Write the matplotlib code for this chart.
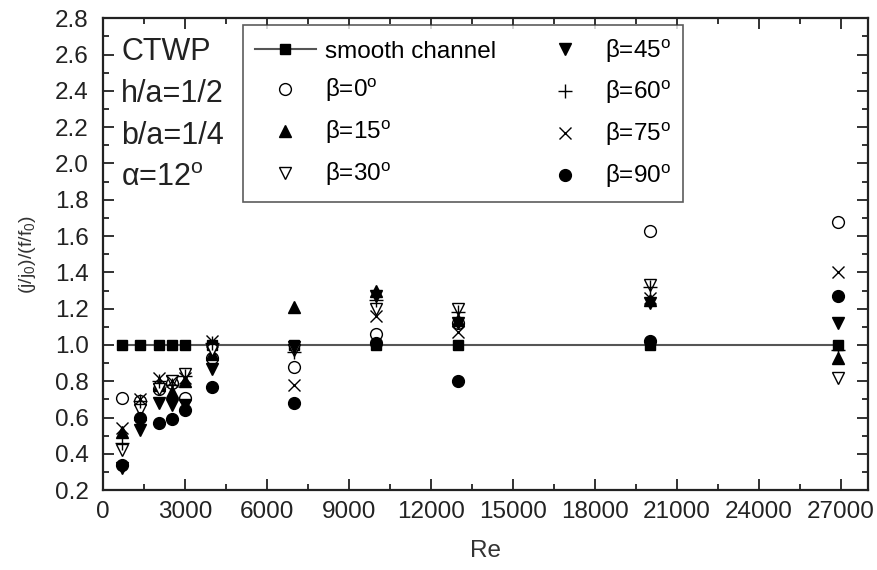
import matplotlib
matplotlib.use("Agg")
import matplotlib.pyplot as plt
from matplotlib.ticker import MultipleLocator

plt.rcParams['font.family'] = ['Liberation Sans', 'DejaVu Sans']
plt.rcParams['mathtext.fontset'] = 'custom'
plt.rcParams['mathtext.rm'] = 'Liberation Sans'
plt.rcParams['mathtext.it'] = 'Liberation Sans:italic'

# Reynolds numbers tested
re_vals = [700, 1350, 2050, 2550, 3000, 4000, 7000, 10000, 13000, 20000, 26900]

# thermal performance (j/j0)/(f/f0) for each rib angle
smooth = [1.0, 1.0, 1.0, 1.0, 1.0, 1.0, 1.0, 1.0, 1.0, 1.0, 1.0]
beta0 = [0.71, 0.69, 0.76, 0.79, 0.71, 0.93, 0.88, 1.06, 1.12, 1.63, 1.68]
beta15 = [0.52, 0.62, 0.78, 0.74, 0.80, 0.95, 1.21, 1.30, 1.14, 1.25, 0.93]
beta30 = [0.42, 0.64, 0.76, 0.80, 0.84, 0.97, 0.97, 1.20, 1.20, 1.33, 0.82]
beta45 = [0.32, 0.53, 0.68, 0.67, 0.67, 0.87, 0.99, 1.27, 1.12, 1.23, 1.12]
beta60 = [0.46, 0.69, 0.80, 0.78, 0.83, 1.01, 0.96, 1.25, 1.18, 1.32, 0.97]
beta75 = [0.54, 0.70, 0.82, 0.80, 0.82, 1.02, 0.78, 1.16, 1.07, 1.26, 1.40]
beta90 = [0.34, 0.60, 0.57, 0.59, 0.64, 0.77, 0.68, 1.01, 0.80, 1.02, 1.27]

deg = r'$^{\mathrm{o}}$'

fig = plt.figure(figsize=(8.78, 5.70), dpi=100)
ax = fig.add_axes([0.117, 0.14, 0.872, 0.828])

ms = 8.5
ax.plot(re_vals, smooth, color='#555555', lw=1.5, marker='s', ms=7.5,
        mfc='black', mec='black', label='smooth channel')
ax.plot(re_vals, beta0, ls='none', marker='o', ms=ms, mfc='white',
        mec='black', mew=1.0, label='β=0' + deg)
ax.plot(re_vals, beta15, ls='none', marker='^', ms=ms, color='black',
        label='β=15' + deg)
ax.plot(re_vals, beta30, ls='none', marker='v', ms=ms, mfc='white',
        mec='black', mew=1.0, label='β=30' + deg)
ax.plot(re_vals, beta45, ls='none', marker='v', ms=ms, color='black',
        label='β=45' + deg)
ax.plot(re_vals, beta60, ls='none', marker='+', ms=ms + 1.5, color='black',
        mew=1.0, label='β=60' + deg)
ax.plot(re_vals, beta75, ls='none', marker='x', ms=ms, color='black',
        mew=1.0, label='β=75' + deg)
ax.plot(re_vals, beta90, ls='none', marker='o', ms=ms, color='black',
        label='β=90' + deg)

ax.set_xlim(0, 28000)
ax.set_ylim(0.2, 2.8)
ax.xaxis.set_major_locator(MultipleLocator(3000))
ax.xaxis.set_minor_locator(MultipleLocator(1500))
ax.yaxis.set_major_locator(MultipleLocator(0.2))
ax.yaxis.set_minor_locator(MultipleLocator(0.1))
ax.yaxis.set_major_formatter(plt.FormatStrFormatter('%.1f'))
ax.tick_params(which='both', direction='in', top=True, right=True,
               labelsize=17.5, width=1.3, colors='#222222')
ax.tick_params(which='major', length=8)
ax.tick_params(axis='x', which='major', pad=8)
ax.tick_params(axis='y', which='major', pad=10)
ax.tick_params(which='minor', length=4)
for sp in ax.spines.values():
    sp.set_linewidth(1.6)
    sp.set_color('#222222')

ax.set_xlabel('Re', fontsize=17.5, labelpad=12, color='#333333')
ax.set_ylabel(r'(j/j$_0$)/(f/f$_0$)', fontsize=14, labelpad=12, color='#333333')

# geometry annotations
notes = ['CTWP', 'h/a=1/2', 'b/a=1/4', 'α=12' + deg]
for i, t in enumerate(notes):
    ax.text(0.024, 0.928 - i * 0.089, t, transform=ax.transAxes,
            fontsize=22, va='center', ha='left', color='#222222')

leg = ax.legend(ncol=2, loc='upper left', bbox_to_anchor=(0.183, 0.985),
                fontsize=17.5, frameon=True, fancybox=False, edgecolor='#333333',
                handlelength=2.5, columnspacing=1.6, labelspacing=0.6,
                borderpad=0.5, handletextpad=0.37, borderaxespad=0)
leg.get_frame().set_linewidth(1.2)

fig.savefig('out.png', dpi=100)
